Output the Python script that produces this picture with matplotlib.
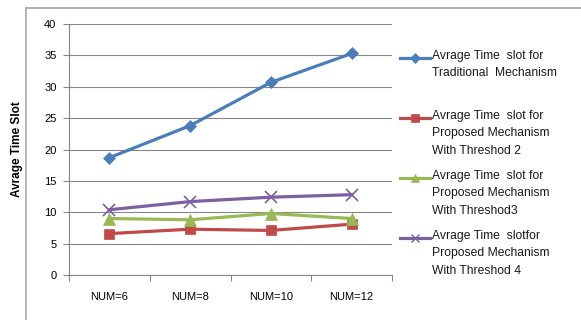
import matplotlib
matplotlib.use("Agg")
import matplotlib.pyplot as plt
from matplotlib.lines import Line2D

categories = ["NUM=6", "NUM=8", "NUM=10", "NUM=12"]
traditional = [18.7, 23.8, 30.7, 35.3]
threshold2 = [6.6, 7.3, 7.1, 8.1]
threshold3 = [9.0, 8.8, 9.8, 9.0]
threshold4 = [10.4, 11.7, 12.4, 12.8]
labels = [
    "Avrage Time  slot for\nTraditional  Mechanism",
    "Avrage Time  slot for\nProposed Mechanism\nWith Threshod 2",
    "Avrage Time  slot for\nProposed Mechanism\nWith Threshod3",
    "Avrage Time  slotfor\nProposed Mechanism\nWith Threshod 4",
]
y_ticks = [0, 5, 10, 15, 20, 25, 30, 35, 40]

plt.rcParams['font.family'] = ['Liberation Sans', 'DejaVu Sans']

W, H = 581, 320
fig = plt.figure(figsize=(W / 100, H / 100), dpi=100)
fig.patch.set_facecolor('white')

def fx(px):
    return px / W

def fy(py):
    return 1 - py / H

ax = fig.add_axes([fx(69), fy(275), fx(392) - fx(69), fy(24) - fy(275)])

series = [
    (traditional, '#4A7EBB', 'D', 6, 'none'),
    (threshold2, '#BE4B48', 's', 7.5, 'none'),
    (threshold3, '#98B954', '^', 8, 'none'),
    (threshold4, '#7D60A0', 'x', 8, 'none'),
]
x = list(range(len(categories)))
for vals, col, mk, ms, _ in series:
    ax.plot(x, vals, color=col, lw=2.3, marker=mk, markersize=ms,
            markeredgewidth=1.2 if mk == 'x' else 0.5, markeredgecolor=col,
            markerfacecolor=col, zorder=3, clip_on=False)

ax.set_xlim(-0.5, len(categories) - 0.5)
ax.set_ylim(0, 40)
ax.set_yticks(y_ticks)
ax.set_yticklabels([str(t) for t in y_ticks], fontsize=8)
ax.set_xticks(x)
ax.set_xticklabels(categories, fontsize=8)
ax.tick_params(axis='x', length=0, pad=12)
ax.set_xticks([i - 0.5 for i in range(len(categories) + 1)], minor=True)
ax.tick_params(axis='x', which='minor', length=4, color='#868686', width=0.8, direction='out')
ax.tick_params(axis='y', length=4, color='#868686', width=0.8, pad=5)
ax.yaxis.grid(True, color='#868686', lw=0.8)
ax.set_axisbelow(True)
for s in ['top', 'right']:
    ax.spines[s].set_visible(False)
for s in ['left', 'bottom']:
    ax.spines[s].set_color('#868686')
    ax.spines[s].set_linewidth(0.8)
ax.set_ylabel("Avrage Time Slot", fontsize=8.5, fontweight='bold')
ax.yaxis.set_label_coords((23 - 69) / (392 - 69), 0.5)

# outer chart frame
fig.add_artist(Line2D([fx(26), fx(26)], [fy(8), 0], color='#A6A6A6', lw=1.2, transform=fig.transFigure))
fig.add_artist(Line2D([fx(26), 1], [fy(8), fy(8)], color='#A6A6A6', lw=1.2, transform=fig.transFigure))

# legend
leg_y = [58, 118, 178, 238]
for (vals, col, mk, ms, _), lab, yy in zip(series, labels, leg_y):
    fig.add_artist(Line2D([fx(400), fx(430)], [fy(yy), fy(yy)], color=col, lw=2.3,
                          transform=fig.transFigure))
    fig.add_artist(Line2D([fx(415)], [fy(yy)], color=col, marker=mk, markersize=ms * 0.8,
                          markeredgewidth=1.0 if mk == 'x' else 0.5, markerfacecolor=col,
                          markeredgecolor=col, transform=fig.transFigure))
    fig.text(fx(432), fy(yy - 8), lab, fontsize=8.7, va='top', ha='left',
             linespacing=1.6, color='#1a1a1a')

fig.savefig("out.png", dpi=100)
